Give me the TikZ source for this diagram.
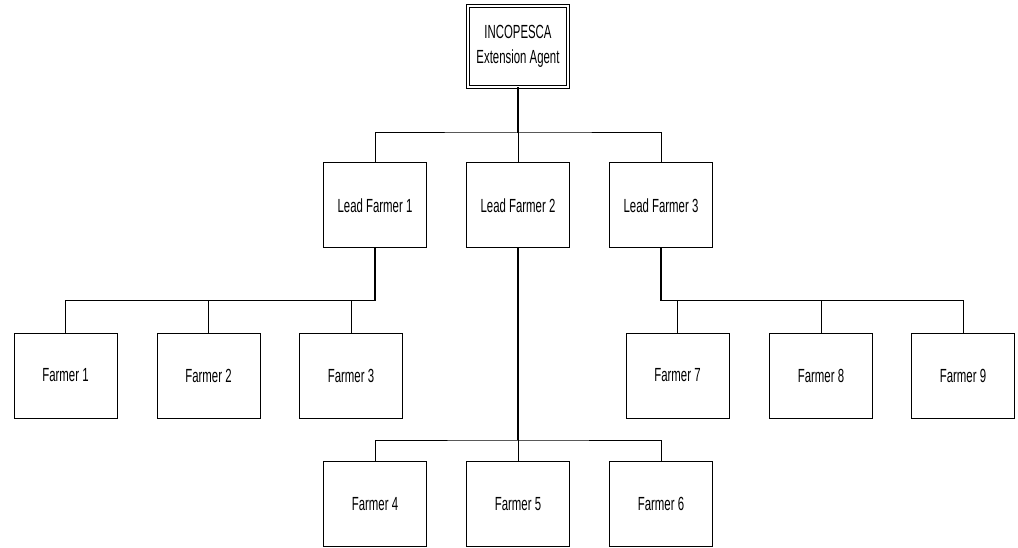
\documentclass[tikz,border=0pt]{standalone}
\usepackage{fontspec}
\newfontfamily\narrowfont[FakeStretch=0.6]{Liberation Sans}
\begin{document}
\begin{tikzpicture}[x=1pt,y=1pt,
  box/.style={draw, line width=1pt, minimum width=103pt, minimum height=85pt, inner sep=0pt,
    font=\narrowfont\fontsize{19}{25}\selectfont, align=center},
  topbox/.style={draw, double, line width=1pt, double distance=2pt, minimum width=100pt,
    minimum height=81pt, inner sep=0pt, font=\narrowfont\fontsize{19}{25}\selectfont, align=center},
  trunk/.style={line width=1.5pt},
  drop/.style={line width=1pt}]
\useasboundingbox (0,0) rectangle (1018,-548);
\node[topbox] (top) at (518,-46.5) {INCOPESCA\\Extension Agent};
\node[box] (lf1) at (375,-205.5) {Lead Farmer 1};
\node[box] (lf2) at (518,-205.5) {Lead Farmer 2};
\node[box] (lf3) at (661,-205.5) {Lead Farmer 3};
\node[box] (f1) at (65.5,-375.5) {Farmer 1};
\node[box] (f2) at (208.5,-375.5) {Farmer 2};
\node[box] (f3) at (351,-375.5) {Farmer 3};
\node[box] (f7) at (677.5,-375.5) {Farmer 7};
\node[box] (f8) at (821,-375.5) {Farmer 8};
\node[box] (f9) at (963,-375.5) {Farmer 9};
\node[box] (f4) at (375,-504) {Farmer 4};
\node[box] (f5) at (518,-504) {Farmer 5};
\node[box] (f6) at (661,-504) {Farmer 6};
\coordinate (bus1) at (518,-133);
\coordinate (bus2) at (375,-301);
\coordinate (bus3) at (518,-440);
\coordinate (bus4) at (661,-301);
\draw[trunk] (top.south) -- (bus1);
\draw[drop] (lf1.north) |- (bus1) -| (lf3.north);
\draw[drop] (bus1) -- (lf2.north);
\draw[trunk] (lf1.south) -- (bus2);
\draw[drop] (f1.north) |- (bus2);
\draw[drop] (f2.north) |- (bus2);
\draw[drop] (f3.north) |- (bus2);
\draw[trunk] (lf2.south) -- (bus3);
\draw[drop] (f4.north) |- (bus3) -| (f6.north);
\draw[drop] (bus3) -- (f5.north);
\draw[trunk] (lf3.south) -- (bus4);
\draw[drop] (f7.north) |- (bus4);
\draw[drop] (f8.north) |- (bus4);
\draw[drop] (f9.north) |- (bus4);
\end{tikzpicture}
\end{document}
